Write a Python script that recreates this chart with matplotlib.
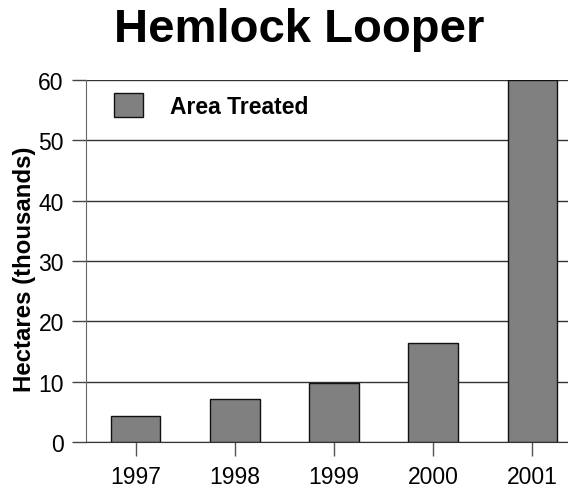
import matplotlib
matplotlib.use("Agg")
import matplotlib.pyplot as plt

years = ["1997", "1998", "1999", "2000", "2001"]
area_treated = [4.3, 7.2, 9.8, 16.4, 59.9]
y_ticks = [0, 10, 20, 30, 40, 50, 60]

plt.rcParams['font.family'] = ['Liberation Sans', 'DejaVu Sans']

W, H = 568, 489
fig = plt.figure(figsize=(W / 100, H / 100), dpi=100)
ax = fig.add_axes([86 / W, 1 - 443.3 / H, (582 - 86) / W, (443.3 - 80.7) / H])

x = list(range(len(years)))
ax.bar(x, area_treated, width=0.5, color='#808080', edgecolor='#111111',
       linewidth=1, label='Area Treated', zorder=3)

ax.set_xlim(-0.5, 4.5)
ax.set_ylim(0, 60)
ax.set_yticks(y_ticks)
ax.set_xticks(x)
ax.set_xticklabels(years)
ax.yaxis.grid(True, color='#333333', linewidth=1, zorder=0)
ax.set_axisbelow(True)

for s in ['top', 'right']:
    ax.spines[s].set_visible(False)
ax.spines['left'].set_color('#666666')
ax.spines['bottom'].set_color('#333333')
ax.tick_params(axis='y', direction='out', length=10, width=1, color='#444444',
               labelsize=16.5, pad=6)
ax.tick_params(axis='x', direction='out', length=10, width=1, color='#555555',
               labelsize=16.5, pad=6)

fig.text(299 / W, 1 - 42 / H, "Hemlock Looper", ha='center', va='baseline',
         fontsize=34, fontweight='bold')
fig.text(24.5 / W, 1 - 269 / H, "Hectares (thousands)", ha='center', va='center',
         rotation=90, fontsize=17.3, fontweight='bold')

ax.legend(loc='upper left', bbox_to_anchor=(114 / W, 1 - 94 / H),
          bbox_transform=fig.transFigure, frameon=False, borderpad=0,
          borderaxespad=0, handlelength=1.26, handleheight=1.26,
          handletextpad=1.2, prop={'weight': 'bold', 'size': 16.5})

fig.savefig("out.png", dpi=100)
